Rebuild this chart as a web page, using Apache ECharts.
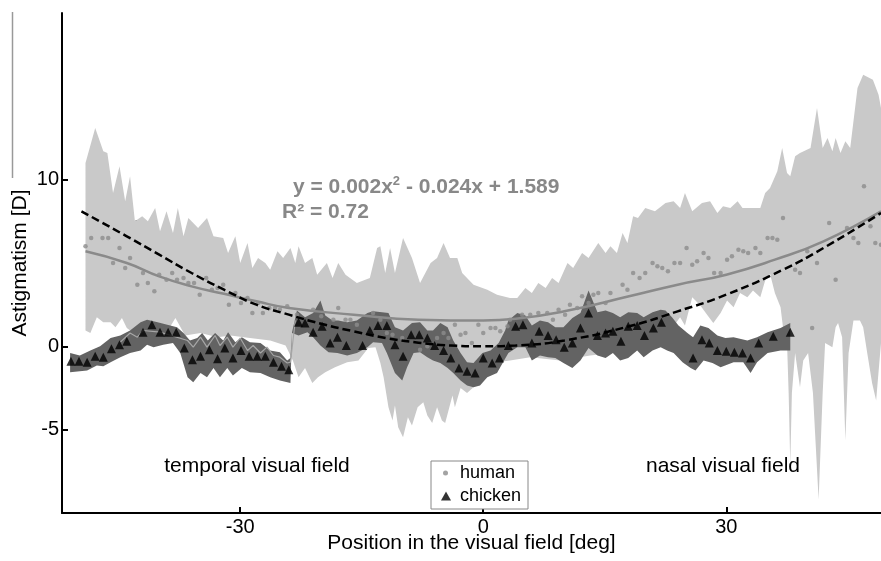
<!DOCTYPE html>
<html>
<head>
<meta charset="utf-8">
<script src="https://cdn.jsdelivr.net/npm/echarts@6/dist/echarts.min.js"></script>
<style>
  html, body { margin: 0; padding: 0; background: #fff; }
  #chart { width: 881px; height: 561px; }
</style>
</head>
<body>
<div id="chart"></div>
<script>
// human: spread of the measurements (upper / lower edge of the light band)
const humanUpper = [[-49.1,11.0],[-47.9,13.1],[-46.9,11.7],[-46.4,11.6],[-45.7,9.2],[-44.9,10.8],[-44.2,8.7],[-43.6,10.2],[-43.0,7.5],[-42.1,7.8],[-41.4,7.5],[-40.5,8.3],[-39.9,6.9],[-39.1,8.1],[-38.3,6.8],[-37.7,8.3],[-37.0,6.6],[-36.4,7.7],[-35.2,7.1],[-34.1,7.7],[-33.3,6.6],[-32.1,6.5],[-31.5,5.6],[-30.6,6.6],[-30.0,5.0],[-29.1,6.2],[-28.5,4.7],[-27.8,5.3],[-26.9,5.0],[-26.3,4.6],[-25.4,5.7],[-24.7,5.3],[-23.8,5.9],[-23.2,5.0],[-22.8,6.0],[-22.0,5.0],[-21.1,5.3],[-20.5,4.3],[-19.3,5.0],[-18.6,4.1],[-17.9,5.0],[-17.0,4.3],[-15.6,3.8],[-14.0,4.1],[-13.1,5.9],[-12.7,6.0],[-12.1,4.4],[-11.5,5.9],[-10.9,4.4],[-9.9,6.5],[-8.8,5.3],[-7.8,3.8],[-6.5,5.0],[-5.7,5.3],[-4.9,6.2],[-4.1,5.3],[-3.2,5.3],[-2.6,4.4],[-1.2,3.7],[0.5,3.4],[1.7,3.1],[3.3,2.9],[4.2,2.9],[5.2,3.5],[6.0,3.2],[6.8,3.8],[7.7,3.5],[8.5,4.1],[9.3,3.8],[10.4,5.0],[11.1,4.7],[12.2,5.6],[13.0,5.3],[14.2,6.2],[15.1,5.6],[15.7,6.0],[16.5,5.6],[17.2,6.8],[17.8,6.2],[18.5,7.8],[19.1,7.7],[20.0,8.3],[21.2,8.1],[22.5,8.6],[23.5,8.7],[24.3,8.3],[24.9,9.2],[25.8,8.1],[27.0,8.6],[28.0,8.7],[28.9,8.0],[29.6,8.4],[30.5,8.3],[31.4,8.7],[32.0,8.3],[33.0,8.3],[34.2,8.3],[34.8,9.2],[35.4,9.5],[36.3,10.5],[36.9,11.9],[37.5,10.4],[37.9,10.2],[38.5,11.4],[39.1,11.6],[40.4,11.9],[41.2,14.3],[41.9,11.9],[42.5,12.5],[43.1,11.7],[43.5,12.5],[44.1,11.6],[44.7,12.3],[45.3,11.9],[46.2,15.5],[46.9,16.3],[48.1,16.0],[48.8,15.1],[49.1,14.3]];
const humanLower = [[-49.1,0.95],[-48.5,0.8],[-47.7,1.75],[-46.9,1.45],[-46.0,1.45],[-45.4,1.15],[-44.6,1.7],[-44.0,1.1],[-43.3,0.85],[-42.7,1.15],[-41.1,0.5],[-39.3,0.65],[-38.0,1.7],[-36.8,0.65],[-34.9,0.8],[-32.8,0.55],[-31.2,0.65],[-28.8,0.5],[-26.3,0.35],[-24.4,0.05],[-23.5,-0.85],[-22.8,-1.85],[-22.0,-1.3],[-21.1,-2.2],[-20.4,-1.85],[-19.5,-1.55],[-18.3,-1.25],[-16.8,-0.95],[-15.4,-0.85],[-14.2,-0.1],[-13.3,-0.05],[-12.7,-1.0],[-12.3,-1.85],[-11.7,-3.65],[-11.2,-4.45],[-10.9,-3.55],[-10.5,-4.85],[-9.9,-5.45],[-9.3,-4.25],[-8.8,-4.75],[-8.1,-3.65],[-7.4,-3.35],[-6.9,-4.15],[-6.3,-4.6],[-5.7,-3.65],[-5.1,-4.45],[-4.7,-4.6],[-3.8,-2.95],[-3.5,-3.65],[-2.8,-2.5],[-2.0,-2.8],[-1.2,-2.45],[-0.4,-1.75],[0.5,-1.55],[1.7,-0.95],[3.3,-0.85],[5.8,-0.65],[9.5,-0.85],[13.2,-0.55],[16.9,-0.35],[20.6,0.05],[23.1,0.95],[24.3,1.75],[24.9,1.25],[25.8,2.95],[26.8,2.45],[27.7,1.85],[28.4,1.4],[29.3,2.0],[30.1,2.75],[30.9,2.35],[31.7,3.2],[32.6,2.95],[33.3,3.35],[34.2,2.95],[34.8,3.95],[35.4,4.35],[36.0,3.2],[36.7,2.35],[37.0,1.15],[37.5,0.2],[37.7,-2.8],[37.9,-7.1],[38.1,-2.8],[38.5,-0.4],[39.1,-2.45],[39.5,-0.85],[40.1,-0.4],[40.7,-2.8],[41.4,-9.2],[41.9,-2.8],[42.2,0.2],[43.1,-0.05],[43.5,1.15],[43.8,1.4],[44.3,0.55],[44.7,-5.65],[45.1,-0.4],[45.7,1.55],[46.5,1.55],[46.9,1.15],[47.4,-0.4],[48.0,-2.2],[48.5,-3.25],[49.1,0.2]];
// human single measurements
const humanPoints = [[-49.1,6.0],[-48.4,6.5],[-47.0,6.5],[-46.3,6.5],[-45.7,5.0],[-44.9,5.9],[-44.2,4.7],[-43.6,5.3],[-42.7,3.7],[-42.0,4.4],[-41.4,3.8],[-40.6,3.3],[-40.0,4.3],[-39.1,4.0],[-38.4,4.4],[-37.8,4.0],[-37.0,4.1],[-36.4,3.8],[-35.7,3.8],[-35.0,3.1],[-34.2,4.1],[-33.5,3.4],[-32.8,3.5],[-32.1,3.7],[-31.4,2.5],[-30.6,3.2],[-29.9,2.6],[-29.1,2.9],[-28.5,2.0],[-27.8,2.6],[-27.2,2.0],[-26.4,2.3],[-25.7,2.3],[-25.1,2.2],[-24.2,2.4],[-23.0,1.9],[-21.0,2.2],[-20.0,1.8],[-18.5,1.6],[-17.9,2.3],[-17.0,1.6],[-16.4,1.6],[-15.6,1.3],[-13.6,2.0],[-12.7,1.6],[-11.9,0.8],[-11.2,0.7],[-10.0,0.5],[-7.8,-0.2],[-6.9,0.0],[-5.7,0.5],[-4.9,0.8],[-4.3,0.5],[-3.5,1.3],[-2.8,0.7],[-2.2,0.8],[-1.4,0.2],[-0.6,1.3],[0.0,0.8],[0.9,1.1],[1.5,1.1],[2.1,0.9],[3.0,1.2],[3.3,1.6],[4.8,1.9],[5.8,1.9],[6.8,2.0],[7.9,2.0],[8.6,1.6],[9.3,2.2],[10.1,1.9],[10.7,2.5],[11.6,2.3],[12.2,3.0],[13.0,2.6],[13.6,3.1],[14.2,3.2],[15.1,2.6],[15.7,3.2],[17.2,3.7],[17.8,3.4],[18.5,4.4],[19.3,4.1],[20.0,4.4],[20.9,5.0],[21.5,4.8],[22.1,4.7],[22.8,4.5],[23.6,5.0],[24.3,5.0],[25.1,5.9],[25.8,4.9],[26.4,5.1],[27.2,5.6],[27.8,5.3],[28.5,4.4],[29.3,4.4],[30.1,5.2],[30.7,5.4],[31.5,5.8],[32.1,5.7],[32.7,5.6],[33.6,5.9],[34.2,5.6],[35.1,6.5],[35.7,6.5],[36.3,6.4],[37.0,7.7],[38.5,4.6],[39.1,4.4],[40.0,5.7],[40.6,1.1],[41.2,5.0],[42.7,7.4],[43.5,4.0],[44.9,7.1],[45.7,6.5],[46.3,6.2],[47.0,9.6],[47.8,7.2],[48.4,6.2],[49.1,6.1]];
// quadratic fit to the human data
const humanFit = [[-49.1,5.7],[-44,5.0],[-40,4.2],[-36,3.6],[-32,3.15],[-28,2.7],[-24,2.3],[-16,1.9],[-8,1.6],[0,1.55],[4,1.65],[10,2.1],[18,3.0],[24,3.7],[30,4.3],[36,5.2],[42,6.3],[49.1,8.1]];
// Howland 2010 reference curve
const howland = [[-49.6,8.1],[-44,6.6],[-40,5.5],[-36,4.4],[-32,3.4],[-28,2.5],[-24,1.9],[-20,1.35],[-16,0.9],[-12,0.5],[-8,0.22],[-4,0.05],[0,0],[4,0.05],[10,0.35],[18,1.2],[24,2.1],[30,3.1],[37,4.6],[42,5.9],[49.1,8.0]];
// chicken: spread (dark band), faint single trace and mean values
const chickenUpper = [[-51.0,-0.4],[-49.8,-0.55],[-48.5,-0.25],[-47.3,0.0],[-46.0,0.5],[-44.8,0.65],[-43.6,0.95],[-42.3,1.45],[-41.5,1.6],[-40.2,1.45],[-39.0,1.3],[-37.8,1.15],[-37.0,0.8],[-36.2,0.35],[-35.3,0.5],[-34.7,0.8],[-34.0,0.35],[-33.1,0.8],[-32.1,0.35],[-31.5,0.85],[-30.6,0.25],[-29.8,0.55],[-28.8,0.25],[-27.5,0.2],[-26.3,-0.25],[-25.1,-0.35],[-24.2,-0.85],[-23.8,-0.7],[-23.6,0.85],[-23.0,2.15],[-22.0,1.75],[-21.0,2.0],[-20.1,2.75],[-19.5,1.85],[-18.6,1.55],[-17.9,1.55],[-16.8,1.45],[-15.6,1.55],[-14.3,2.0],[-13.6,2.1],[-12.5,2.05],[-11.7,2.0],[-10.9,1.15],[-9.9,0.95],[-8.8,1.4],[-7.8,1.45],[-6.9,0.95],[-6.2,0.95],[-5.3,1.4],[-4.4,1.15],[-3.7,0.35],[-2.8,-0.4],[-2.0,-0.95],[-1.2,-1.0],[-0.1,-0.4],[0.9,-0.25],[1.9,0.2],[2.7,0.95],[3.1,1.55],[4.2,2.0],[5.2,1.85],[6.0,1.25],[7.0,1.55],[8.0,1.45],[8.9,1.15],[9.9,1.15],[11.0,1.7],[12.0,2.0],[13.0,3.35],[14.1,2.05],[15.1,2.15],[16.0,2.0],[16.9,1.75],[17.9,2.05],[19.0,2.0],[19.8,1.75],[20.9,2.05],[21.9,2.2],[22.5,2.15],[23.3,1.75],[24.1,1.25],[25.2,0.8],[25.9,0.55],[26.8,1.25],[27.8,1.1],[28.9,0.65],[29.9,0.5],[30.9,0.55],[32.6,0.35],[33.8,0.55],[35.1,0.85],[36.7,1.1],[37.9,1.4]];
const chickenLower = [[-51.0,-1.55],[-48.9,-1.45],[-47.7,-1.15],[-46.9,-1.2],[-46.0,-0.95],[-44.8,-0.65],[-43.6,-0.4],[-42.3,-0.25],[-41.5,0.1],[-40.7,-0.05],[-39.5,0.1],[-38.3,0.2],[-37.4,-0.4],[-36.5,-1.85],[-35.8,-2.15],[-34.9,-1.6],[-34.1,-1.85],[-33.3,-1.3],[-32.5,-1.85],[-31.6,-1.3],[-30.9,-1.75],[-29.8,-1.3],[-28.8,-1.55],[-27.5,-1.6],[-26.3,-1.85],[-25.1,-2.05],[-23.8,-2.2],[-23.6,0.8],[-22.8,0.65],[-21.7,0.85],[-21.0,0.55],[-20.1,0.05],[-19.1,-0.35],[-18.0,-0.4],[-16.8,-0.55],[-15.6,-0.4],[-14.3,-0.05],[-13.6,0.25],[-12.5,0.2],[-11.9,-0.4],[-10.9,-1.6],[-10.0,-2.05],[-9.4,-1.25],[-8.6,-0.4],[-7.8,-0.35],[-6.9,-0.65],[-6.2,-0.85],[-5.3,-1.0],[-4.4,-1.3],[-3.7,-1.6],[-2.8,-2.05],[-2.0,-2.35],[-1.2,-2.45],[-0.4,-2.35],[0.5,-1.85],[1.7,-1.6],[2.1,-1.25],[3.1,-0.4],[4.2,-0.05],[5.2,-0.05],[6.0,-0.85],[7.0,-0.55],[8.0,-0.65],[8.9,-0.7],[9.9,-1.0],[11.0,-1.3],[12.0,-0.85],[13.0,-0.1],[14.1,-0.55],[15.1,-0.7],[16.0,-0.4],[16.9,-0.85],[17.9,-0.7],[19.0,-0.25],[19.8,-0.65],[20.9,-0.25],[21.9,-0.05],[22.7,-0.25],[23.5,-0.4],[24.6,-0.95],[25.6,-1.3],[26.2,-1.45],[27.2,-0.85],[28.3,-1.0],[29.3,-1.25],[30.9,-0.95],[32.1,-0.95],[33.0,-1.6],[33.8,-0.95],[35.1,-0.4],[36.7,-0.25],[37.9,-0.25]];
const chickenTrace = [[-44.8,0.25],[-43.6,0.8],[-42.7,0.55],[-42.0,0.95],[-39.9,0.85],[-36.5,0.35],[-35.8,-0.05],[-34.9,0.55],[-34.1,-0.05],[-33.1,0.65],[-32.5,0.05],[-31.6,0.55],[-30.9,-0.05],[-30.0,0.5],[-29.1,-0.25],[-28.4,0.05],[-27.5,-0.4],[-26.7,-0.05],[-25.9,-0.55],[-25.1,-0.65],[-24.2,-1.0],[-23.8,-0.95],[-23.2,1.55]];
const chickenPoints = [[-50.9,-0.9],[-49.9,-0.9],[-48.9,-0.95],[-47.9,-0.6],[-46.9,-0.65],[-45.9,-0.15],[-44.9,0.1],[-44.0,0.3],[-42.0,0.85],[-40.9,1.3],[-39.9,0.85],[-38.9,0.85],[-37.9,0.85],[-36.9,-0.1],[-35.9,-0.8],[-34.9,-0.6],[-33.8,-0.2],[-32.8,-0.75],[-31.9,-0.1],[-30.9,-0.7],[-29.9,-0.25],[-28.9,-0.6],[-27.9,-0.6],[-26.9,-0.6],[-25.9,-0.95],[-24.9,-1.2],[-24.0,-1.4],[-22.8,1.45],[-22.0,1.4],[-21.0,0.85],[-19.9,1.2],[-18.9,0.2],[-18.0,0.55],[-16.9,0.05],[-14.9,0.05],[-14.0,0.95],[-13.0,1.25],[-11.9,1.25],[-10.9,0.1],[-9.9,-0.6],[-8.9,0.7],[-7.9,0.7],[-6.9,0.5],[-6.0,0.05],[-4.9,-0.25],[-4.0,-0.7],[-3.0,-1.3],[-2.0,-1.5],[-1.0,-1.6],[0.0,-0.7],[1.1,-1.0],[2.0,-0.7],[3.1,0.05],[4.0,1.2],[4.9,1.3],[6.0,0.2],[6.9,0.9],[8.0,0.65],[9.0,0.4],[10.0,-0.05],[11.0,0.2],[12.0,1.1],[13.0,2.0],[14.1,0.65],[15.1,0.8],[16.0,0.9],[17.0,0.3],[17.9,1.2],[19.0,1.25],[19.9,0.65],[21.0,1.1],[22.0,1.45],[25.9,-0.7],[27.0,0.4],[27.9,0.2],[28.9,-0.25],[30.0,-0.3],[31.0,-0.35],[32.0,-0.4],[33.0,-0.7],[34.0,0.2],[35.8,0.6],[37.9,0.85]];
const yTicks = [-5, 0, 10];
const xTicks = [-30, 0, 30];

const FONT = '"Liberation Sans", Arial, sans-serif';

// closed polygon between two edges, drawn through the axes
function band(name, upper, lower, color, z) {
  return {
    type: 'custom', name: name, z: z, silent: true, clip: true,
    data: [[0, 0]],
    renderItem: function (params, api) {
      const pts = upper.concat(lower.slice().reverse()).map(function (p) { return api.coord(p); });
      return { type: 'polygon', shape: { points: pts }, style: { fill: color } };
    }
  };
}

const chart = echarts.init(document.getElementById('chart'));
chart.setOption({
  animation: false,
  backgroundColor: '#fff',
  grid: { left: 62, right: 0, top: 13, bottom: 48, containLabel: false, outerBoundsMode: 'none' },
  xAxis: {
    type: 'value', min: -52, max: 49.1,
    name: 'Position in the visual field [deg]', nameLocation: 'middle', nameGap: 20, nameMoveOverlap: false,
    nameTextStyle: { fontFamily: FONT, fontSize: 21, color: '#000' },
    axisLine: { onZero: false, lineStyle: { color: '#000', width: 2 } },
    axisTick: { inside: true, length: 6, customValues: xTicks, lineStyle: { color: '#000', width: 2 } },
    axisLabel: { customValues: xTicks, margin: 4, fontFamily: FONT, fontSize: 20, color: '#000' },
    splitLine: { show: false }
  },
  yAxis: {
    type: 'value', min: -10, max: 20,
    name: 'Astigmatism [D]', nameLocation: 'middle', nameGap: 31, nameMoveOverlap: false,
    nameTextStyle: { fontFamily: FONT, fontSize: 21, color: '#000' },
    axisLine: { onZero: false, lineStyle: { color: '#000', width: 2 } },
    axisTick: { inside: true, length: 6, customValues: yTicks, lineStyle: { color: '#000', width: 2 } },
    axisLabel: { customValues: yTicks, margin: 3, fontFamily: FONT, fontSize: 20, color: '#000' },
    splitLine: { show: false }
  },
  legend: [
    { data: ['human'], left: 443, top: 464, orient: 'vertical', padding: 0, itemWidth: 5, itemHeight: 5,
      selectedMode: false, textStyle: { fontFamily: FONT, fontSize: 18, color: '#000', padding: [0, 0, 0, 7] } },
    { data: ['chicken'], left: 441, top: 487, orient: 'vertical', padding: 0, itemWidth: 10, itemHeight: 9,
      selectedMode: false, textStyle: { fontFamily: FONT, fontSize: 18, color: '#000', padding: [0, 0, 0, 4] } }
  ],
  graphic: [
    { type: 'line', shape: { x1: 12.5, y1: 12, x2: 12.5, y2: 178 }, style: { stroke: '#999', lineWidth: 1.5 } },
    { type: 'rect', z: 3, shape: { x: 431, y: 461, width: 97, height: 48 }, style: { fill: '#fff', stroke: '#888', lineWidth: 1 } },
    { type: 'text', x: 293, y: 187, style: {
        text: 'y = 0.002x{s|2} - 0.024x + 1.589', fill: '#888', font: 'bold 21px ' + FONT, textVerticalAlign: 'middle',
        rich: { s: { fontSize: 13, fontWeight: 'bold', fill: '#888', verticalAlign: 'top', padding: [0, 0, 12, 0] } } } },
    { type: 'text', x: 282, y: 212, style: { text: 'R² = 0.72', fill: '#888', font: 'bold 21px ' + FONT, textVerticalAlign: 'middle' } },
    { type: 'text', x: 257, y: 466, style: { text: 'temporal visual field', fill: '#000', font: '21px ' + FONT, textAlign: 'center', textVerticalAlign: 'middle' } },
    { type: 'text', x: 723, y: 466, style: { text: 'nasal visual field', fill: '#000', font: '21px ' + FONT, textAlign: 'center', textVerticalAlign: 'middle' } },
    { type: 'text', x: 148, y: 234, rotation: -0.5, style: { text: 'Howland 2010', fill: '#000', font: '13px "DejaVu Sans", sans-serif', textAlign: 'center', textVerticalAlign: 'middle' } }
  ],
  series: [
    band('human range', humanUpper, humanLower, '#c9c9c9', 1),
    band('chicken range', chickenUpper, chickenLower, '#636363', 2),
    { name: 'chicken trace', type: 'line', z: 2, data: chickenTrace, showSymbol: false,
      lineStyle: { color: '#a6a6a6', width: 1.2 }, silent: true },
    { name: 'human', type: 'scatter', z: 3, data: humanPoints, symbol: 'circle', symbolSize: 4.5,
      itemStyle: { color: '#8c8c8c' }, silent: true },
    { name: 'fit', type: 'line', z: 3, data: humanFit, smooth: true, showSymbol: false,
      lineStyle: { color: '#8a8a8a', width: 2.5 }, silent: true },
    { name: 'chicken', type: 'scatter', z: 4, data: chickenPoints, symbol: 'triangle', symbolSize: 9,
      itemStyle: { color: '#000' }, silent: true },
    { name: 'Howland 2010', type: 'line', z: 5, data: howland, smooth: true, showSymbol: false,
      lineStyle: { color: '#000', width: 2.5, type: [8, 4] }, silent: true }
  ]
});
</script>
</body>
</html>
